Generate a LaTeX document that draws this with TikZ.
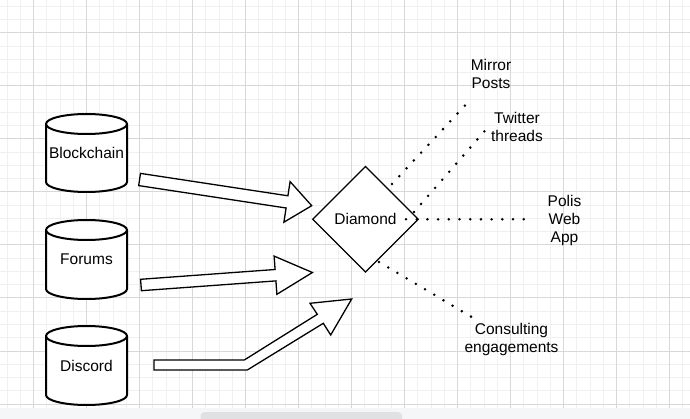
\documentclass[tikz,border=0pt]{standalone}
\usepackage{fontspec}
\setmainfont{Liberation Sans}
\usetikzlibrary{positioning,calc,shapes.geometric}
\definecolor{GridMajor}{HTML}{D8D8D8}
\definecolor{GridMinor}{HTML}{F0F0F0}
\definecolor{BarBg}{HTML}{F5F6F8}
\definecolor{BarThumb}{HTML}{E0E1E3}

\begin{document}
\begin{tikzpicture}[x=1pt, y=-1pt, >=stealth,
    every node/.style={font=\fontsize{15.5}{18.3}\selectfont, inner sep=0pt},
    gridminor/.style={draw=GridMinor, line width=1pt},
    gridmajor/.style={draw=GridMajor, line width=1pt},
    dbline/.style={draw=black, fill=white, line width=2pt},
    blockarr/.style={draw=black, fill=white, line width=1.3pt, line join=miter},
    dotline/.style={draw=black, line width=2.8pt, line cap=round, dash pattern=on 0pt off 10.7pt}]
      \useasboundingbox (0,0) rectangle (690,419);
      \clip (0,0) rectangle (690,419);
      \fill[white] (0,0) rectangle (690,419);

      % Grid
      \foreach \i in {2,...,53}
        \draw[gridminor] ({-19.5+13.25*\i},0) -- ({-19.5+13.25*\i},408);
      \foreach \i in {0,...,30}
        \draw[gridminor] (0,{6.5+13.25*\i}) -- (690,{6.5+13.25*\i});
      \foreach \i in {0,...,12}
        \draw[gridmajor] ({33.5+53*\i},0) -- ({33.5+53*\i},408);
      \foreach \i in {0,...,7}
        \draw[gridmajor] (0,{33+53*\i}) -- (690,{33+53*\i});

      % Bottom bar
      \fill[BarBg] (0,408) rectangle (690,419);
      \fill[BarThumb, rounded corners=4pt] (200.5,412) rectangle (402,424);

      % Data sources
      \foreach \nm/\txt/\ytop/\ybot in {chain/Blockchain/114/192, forum/Forums/220/299, disc/Discord/326/405} {
        \filldraw[dbline] (46,\ytop+10) -- (46,\ybot-10)
          arc[start angle=180, end angle=360, x radius=40.5pt, y radius=10pt]
          -- (127,\ytop+10)
          arc[start angle=0, end angle=180, x radius=40.5pt, y radius=10pt] -- cycle;
        \draw[dbline, fill=none] (46,\ytop+10)
          arc[start angle=180, end angle=360, x radius=40.5pt, y radius=10pt];
        \node (\nm) at (86.5,{(\ytop+\ybot)/2}) {\txt};
      }

      % Block arrows
      \filldraw[blockarr] (140.5,173.4) -- (287.9,195.8) -- (290.1,181.6) -- (311.7,205.7)
        -- (283.9,222.2) -- (286.1,208.0) -- (138.7,185.6) -- cycle;
      \filldraw[blockarr] (140.6,279.3) -- (275.1,269.5) -- (274.1,256.1) -- (312.4,272.5)
        -- (276.9,294.3) -- (275.9,280.9) -- (141.4,290.7) -- cycle;
      \filldraw[blockarr] (154,360) -- (244.3,360) -- (317.3,314.3) -- (310,303.3) -- (351.7,299)
        -- (330.7,335) -- (323.3,323.3) -- (247.3,370) -- (154,370) -- cycle;

      % Diamond
      \node [draw=black, fill=white, diamond, aspect=1, line width=1.2pt,
        minimum width=106pt, minimum height=106pt] (dia) at (365.5,219.3) {Diamond};

      % Outputs
      \node [align=center] (mirror) at (491,74.2) {Mirror\\Posts};
      \node [align=center] (twitter) at (517,127.2) {Twitter\\threads};
      \node [align=center] (polis) at (564.5,220.3) {Polis\\Web\\App};
      \node [align=center] (consult) at (511.5,339.5) {Consulting\\engagements};

      % Dotted links
      \coordinate (mirrorA) at (392,184);
      \coordinate (mirrorB) at (471,99);
      \coordinate (twitterA) at (414,212);
      \coordinate (twitterB) at (490,125);
      \coordinate (polisA) at (406,219.3);
      \coordinate (polisB) at (524,219.3);
      \coordinate (consultA) at (379,262);
      \coordinate (consultB) at (480,322);
      \draw [dotline] (mirrorA) -- (mirrorB);
      \draw [dotline] (twitterA) -- (twitterB);
      \draw [dotline] (polisA) -- (polisB);
      \draw [dotline] (consultA) -- (consultB);
    \end{tikzpicture}
\end{document}
